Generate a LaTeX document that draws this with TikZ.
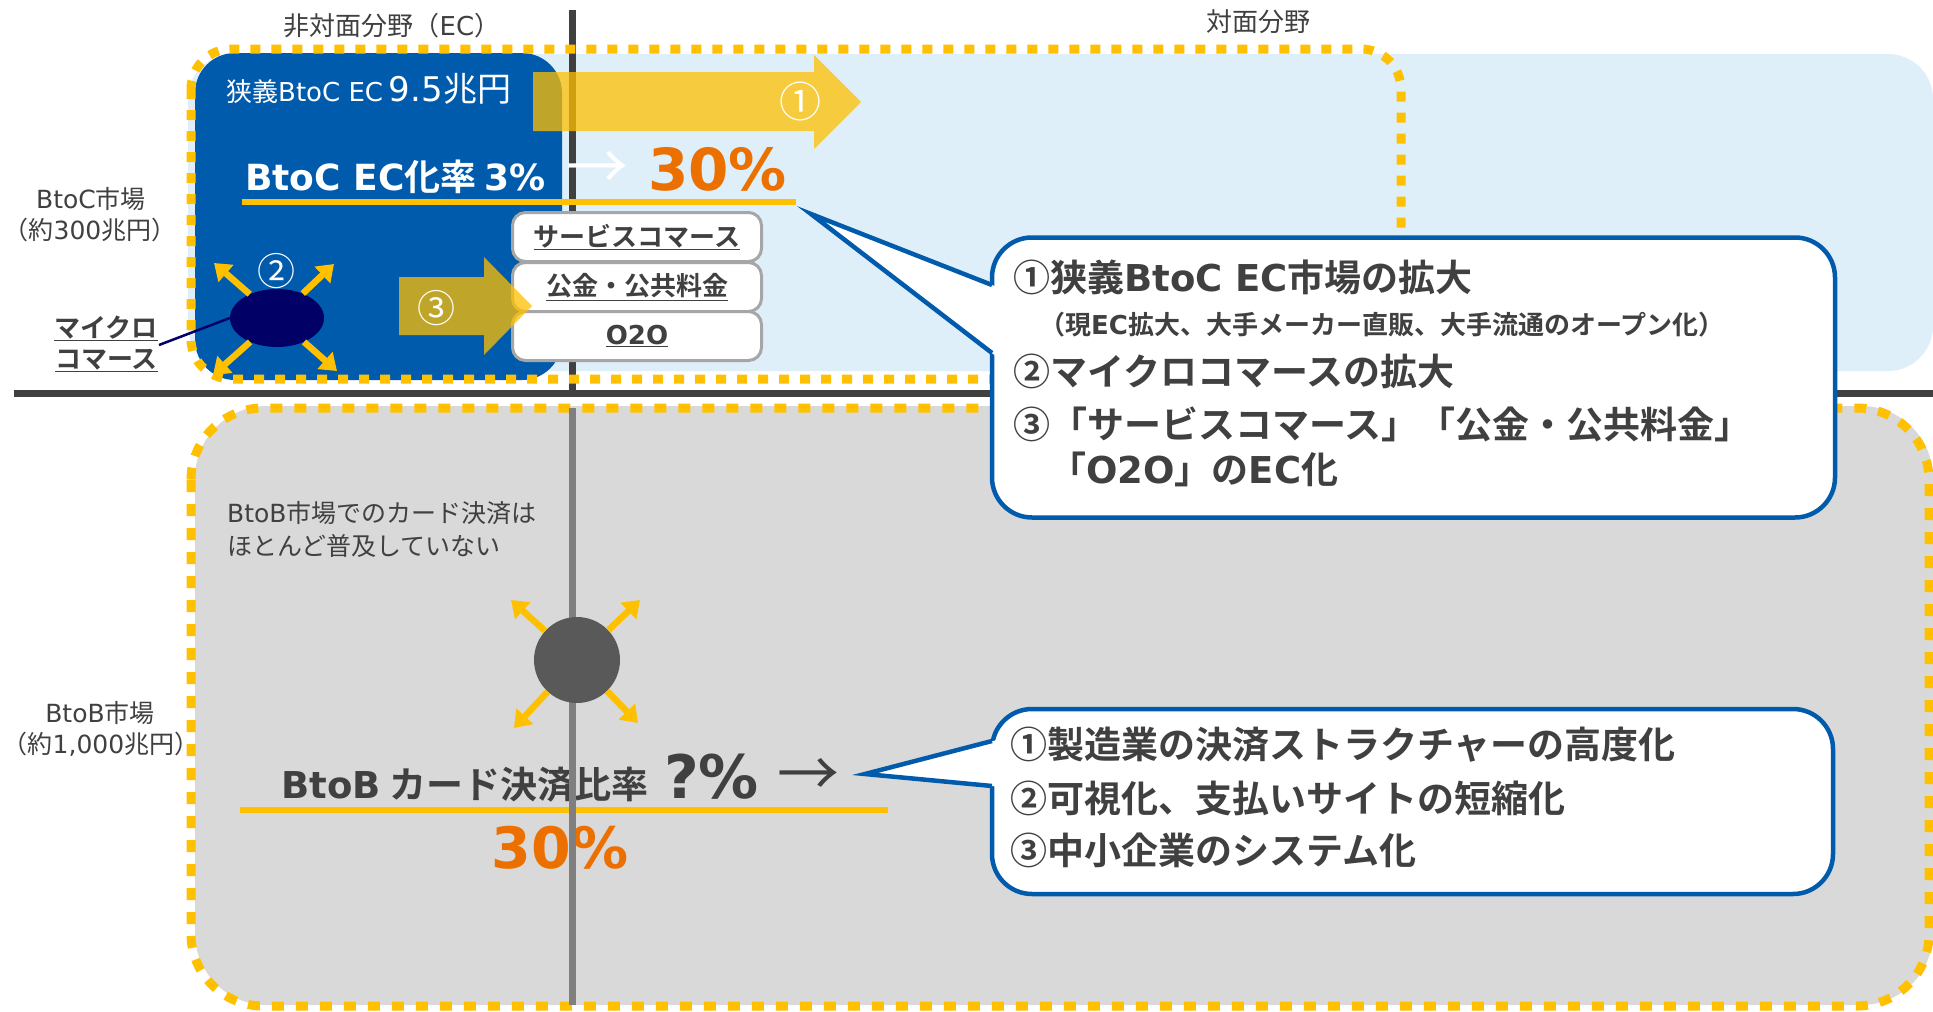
\documentclass[tikz,border=0pt]{standalone}
\usepackage{fontspec}
\setmainfont{Noto Sans CJK JP}[BoldFont={Noto Sans CJK JP Bold}]
\newfontfamily\vd{DejaVu Sans}
\usetikzlibrary{arrows.meta,shapes.geometric}
\definecolor{dblue}{RGB}{0,91,172}
\definecolor{lblue}{RGB}{223,239,250}
\definecolor{ylw}{RGB}{255,192,0}
\definecolor{orng}{RGB}{236,112,0}
\definecolor{gbox}{RGB}{217,217,217}
\definecolor{dgray}{RGB}{64,64,64}
\definecolor{navyc}{RGB}{0,0,102}
\definecolor{cgray}{RGB}{89,89,89}
\definecolor{lgray}{RGB}{127,127,127}
\definecolor{bgray}{RGB}{166,166,166}
\newcommand\fsz[1]{\fontsize{#1}{#1}\selectfont}
\begin{document}
\begin{tikzpicture}[x=1pt,y=-1pt,
  txt/.style={inner sep=0pt, text=dgray},
  wtxt/.style={inner sep=0pt, text=white},
  dotbox/.style={draw=ylw, line width=9pt, dash pattern=on 10pt off 11pt},
  yarr/.style={draw=ylw, line width=6.5pt, -{Triangle[length=16pt,width=22pt]}},
  optbox/.style={draw=bgray, line width=3pt, fill=white, rounded corners=13pt, minimum width=249pt, minimum height=49pt, inner sep=0pt, text=dgray, font=\bfseries\fsz{26}},
  callbox/.style={draw=dblue, line width=4.5pt, fill=white, rounded corners=40pt, inner sep=0pt},
  ptr/.style={draw=dblue, line width=4.5pt, line join=miter},
  ctxt/.style={inner sep=0pt, text=dgray, anchor=base west, font=\bfseries\fsz{37}},
]
\useasboundingbox (0,0) rectangle (1933,1012);
\fill[white] (0,0) rectangle (1933,1012);

% upper area
\fill[lblue, rounded corners=45pt] (188,54) rectangle (1933,371);
\fill[dblue, rounded corners=40pt] (195,53) rectangle (562,380);
\draw[dgray, line width=7pt] (572,10) -- (572,393);
\draw[dotbox, rounded corners=40pt] (191,49) rectangle (1401,379);
\draw[dgray, line width=7pt] (14,393) -- (1933,393);

% lower area
\fill[gbox, rounded corners=72pt] (195,406) rectangle (1933,1005);
\draw[dotbox, dash pattern=on 12pt off 12pt, rounded corners=72pt] (191,408) rectangle (1929,1006);

% axis labels
\node[txt, anchor=base, font=\fsz{26}] (lecl) at (392,35) {非対面分野（{\vd EC}）};
\node[txt, anchor=base, font=\fsz{26}] (lface) at (1258,31) {対面分野};
\node[txt, anchor=base, font=\fsz{25}] (lbtoc) at (91,208) {{\vd BtoC}市場};
\node[txt, anchor=base, font=\fsz{25}] (lbtocv) at (90,239) {（約{\vd 300}兆円）};
\node[txt, anchor=base, font=\fsz{25}] (lbtob) at (100,722) {{\vd BtoB}市場};
\node[txt, anchor=base, font=\fsz{25}] (lbtobv) at (101,753) {（約{\vd 1,000}兆円）};

% lower contents
\node[txt, anchor=base west, font=\fsz{25}] (bnote1) at (227,522) {{\vd BtoB}市場でのカード決済は};
\node[txt, anchor=base west, font=\fsz{25}] (bnote2) at (227,555) {ほとんど普及していない};
\node[txt, anchor=base west, font=\bfseries\fsz{37}] (brate) at (281,798) {{\vd BtoB} カード決済比率\hspace{16pt}{\fsz{60}\vd ?\%}};
\node[txt, font=\fsz{62}] (barr) at (808,777) {→};
\draw[ylw, line width=6pt] (240,810) -- (888,810);
\node[anchor=base, inner sep=0pt, text=orng, font=\bfseries\fsz{57}\vd] (b30) at (560,868) {30\%};
\draw[lgray, line width=7pt] (572,408) -- (572,1005);
\node[circle, fill=cgray, minimum size=86pt, inner sep=0pt] (bc) at (577,660) {};
\coordinate (bcnw) at (511,600);
\coordinate (bcne) at (640,600);
\coordinate (bcsw) at (514,728);
\coordinate (bcse) at (638,723);
\draw[yarr] (bc) -- (bcnw);
\draw[yarr] (bc) -- (bcne);
\draw[yarr] (bc) -- (bcsw);
\draw[yarr] (bc) -- (bcse);

% upper contents
\node[wtxt, anchor=base west] (ntxt) at (226,101) {\fsz{26}狭義{\vd BtoC EC} {\fsz{34}\vd 9.5}{\fsz{34}兆円}};
\node[wtxt, anchor=base west, font=\bfseries\fsz{36}] (rate) at (245,190) {{\vd BtoC EC}化率 {\vd 3\%}};
\node[wtxt, font=\fsz{62}] (arr1) at (597,170) {→};
\node[anchor=base west, inner sep=0pt, text=orng, font=\bfseries\fsz{58}\vd] (r30) at (648,190) {30\%};
\draw[ylw, line width=5.5pt] (242,202) -- (796,202);

\node[optbox] (o1) at (637,237) {\underline{サービスコマース}};
\node[optbox] (o2) at (637,287) {\underline{公金・公共料金}};
\node[optbox] (o3) at (637,336) {\underline{{\vd O2O}}};
\fill[ylw, opacity=0.75] (399,277) -- (484,277) -- (484,257) -- (532,306) -- (484,355) -- (484,335) -- (399,335) -- cycle;
\node[wtxt, font=\fsz{38}] (n3) at (436,308) {③};

\node[ellipse, fill=navyc, minimum width=94pt, minimum height=58pt, inner sep=0pt] (mc) at (277,318) {};
\coordinate (mcnw) at (214,263);
\coordinate (mcne) at (334,264);
\coordinate (mcsw) at (213,375);
\coordinate (mcse) at (337,371);
\draw[yarr] (mc) -- (mcnw);
\draw[yarr] (mc) -- (mcne);
\draw[yarr] (mc) -- (mcsw);
\draw[yarr] (mc) -- (mcse);
\node[wtxt, font=\fsz{38}] (n2) at (276,271) {②};
\node[txt, anchor=base east, font=\bfseries\fsz{26}] (mlab1) at (158,337) {\underline{マイクロ}};
\node[txt, anchor=base east, font=\bfseries\fsz{26}] (mlab2) at (158,368) {\underline{コマース}};
\coordinate (mlabpt) at (159,345);
\draw[navyc, line width=2.5pt] (mc.west) -- (mlabpt);

\fill[ylw, opacity=0.75] (533,72) -- (814,72) -- (814,55) -- (861,102) -- (814,149) -- (814,131) -- (533,131) -- cycle;
\node[wtxt, font=\fsz{42}] (n1) at (800,102) {①};

% callout 1
\node[callbox, minimum width=843pt, minimum height=280pt] (c1) at (1413.5,377.5) {};
\coordinate (c1t) at (811,214);
\coordinate (c1a) at (992,285);
\coordinate (c1b) at (992,353);
\coordinate (c1ac) at (997,287);
\coordinate (c1bc) at (997,357);
\fill[white] (c1t) -- (c1ac) -- (c1bc) -- cycle;
\draw[ptr] (c1a) -- (c1t) -- (c1b);
\node[ctxt] (c1l1) at (1013,291) {①狭義{\vd BtoC EC}市場の拡大};
\node[ctxt, font=\bfseries\fsz{26}] (c1l2) at (1039,334) {（現{\vd EC}拡大、大手メーカー直販、大手流通のオープン化）};
\node[ctxt] (c1l3) at (1013,385) {②マイクロコマースの拡大};
\node[ctxt] (c1l4) at (1013,438) {③「サービスコマース」「公金・公共料金」};
\node[ctxt] (c1l5) at (1049,483) {「{\vd O2O}」の{\vd EC}化};

% callout 2
\node[callbox, minimum width=841pt, minimum height=185pt] (c2) at (1412.5,801.5) {};
\coordinate (c2t) at (865,774);
\coordinate (c2a) at (992,741);
\coordinate (c2b) at (992,786);
\coordinate (c2ac) at (997,740);
\coordinate (c2bc) at (997,786.5);
\fill[white] (c2t) -- (c2ac) -- (c2bc) -- cycle;
\draw[ptr] (c2a) -- (c2t) -- (c2b);
\node[ctxt] (c2l1) at (1010,758) {①製造業の決済ストラクチャーの高度化};
\node[ctxt] (c2l2) at (1010,812) {②可視化、支払いサイトの短縮化};
\node[ctxt] (c2l3) at (1010,864) {③中小企業のシステム化};
\end{tikzpicture}
\end{document}
